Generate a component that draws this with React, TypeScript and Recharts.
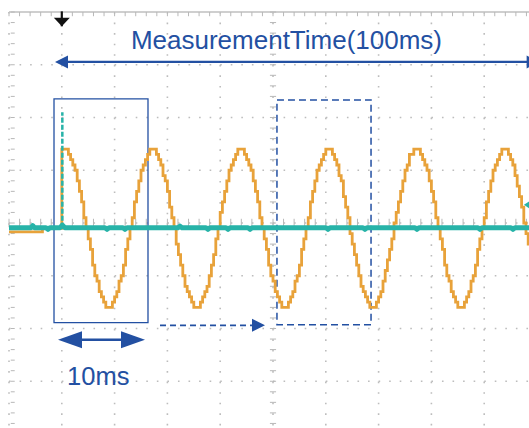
import React from "react";
import {
  ComposedChart,
  Line,
  XAxis,
  YAxis,
  CartesianGrid,
  ReferenceLine,
  ReferenceArea,
  ReferenceDot,
} from "recharts";

const BLUE = "#2350a2";
const ORANGE = "#e8a23a";
const TEAL = "#27b3a8";
const GRID = "#bdbdbd";

// screen: 6 ms per division horizontally, 1 unit per division vertically
const majorT = [0, 6, 12, 18, 24, 30, 36, 42, 48];
const majorV = [-3, -2, -1, 0, 1, 2, 3];

// CH1 (orange) before the trigger
const orangePreT = [-6, -2.2];
const orangePreV = [-0.17, -0.1];

// CH1 after the trigger, one sample every 0.25 ms from t = 0
const orangeSampleMs = 0.25;
const orangeVolts = [
  1.4,
  1.4, 1.4, 1.3, 1.2, 1.1, 1.0, 0.8, 0.6, 0.4, 0.1, -0.1, -0.3, -0.5, -0.8, -1.0, -1.1, -1.3, -1.4, -1.5, -1.6,
  -1.6, -1.6, -1.5, -1.4, -1.3, -1.1, -1.0, -0.8, -0.5, -0.3, -0.1, 0.1, 0.4, 0.6, 0.8, 1.0, 1.1, 1.2, 1.3, 1.4,
  1.4, 1.4, 1.3, 1.2, 1.1, 0.9, 0.8, 0.6, 0.3, 0.1, -0.1, -0.4, -0.6, -0.8, -1.0, -1.2, -1.3, -1.4, -1.5, -1.6,
  -1.6, -1.6, -1.5, -1.4, -1.3, -1.2, -1.0, -0.8, -0.6, -0.3, -0.1, 0.2, 0.4, 0.6, 0.8, 1.0, 1.1, 1.2, 1.3, 1.4,
  1.4, 1.4, 1.3, 1.2, 1.1, 1.0, 0.8, 0.6, 0.4, 0.1, -0.1, -0.3, -0.5, -0.8, -1.0, -1.1, -1.3, -1.4, -1.5, -1.6,
  -1.6, -1.6, -1.5, -1.4, -1.3, -1.1, -1.0, -0.8, -0.5, -0.3, -0.1, 0.1, 0.4, 0.6, 0.8, 1.0, 1.1, 1.2, 1.3, 1.4,
  1.4, 1.4, 1.3, 1.2, 1.1, 0.9, 0.8, 0.5, 0.3, 0.1, -0.2, -0.4, -0.6, -0.8, -1.0, -1.2, -1.3, -1.4, -1.5, -1.6,
  -1.6, -1.6, -1.5, -1.4, -1.3, -1.1, -0.9, -0.7, -0.5, -0.3, 0.0, 0.2, 0.4, 0.6, 0.8, 1.0, 1.1, 1.3, 1.3, 1.4,
  1.4, 1.4, 1.3, 1.2, 1.1, 1.0, 0.8, 0.6, 0.4, 0.1, -0.1, -0.3, -0.5, -0.8, -1.0, -1.1, -1.3, -1.4, -1.5, -1.6,
  -1.6, -1.6, -1.5, -1.4, -1.3, -1.1, -1.0, -0.8, -0.5, -0.3, -0.1, 0.1, 0.4, 0.6, 0.8, 1.0, 1.1, 1.2, 1.3, 1.4,
  1.4, 1.4, 1.3, 1.2, 1.1, 0.9, 0.7, 0.5, 0.3, 0.0, -0.2, -0.4, -0.6,
];

// CH2 (teal): flat with small glitches
const tealTrace: [number, number][] = [
  [-6, -0.09], [-3.5, -0.09], [-3.3, -0.05], [-3.1, -0.09],
  [-1.8, -0.09], [-1.57, -0.12], [-1.35, -0.09],
  [-0.2, -0.09], [0.05, -0.04], [0.35, -0.09],
  [4.9, -0.09], [5.14, -0.12], [5.38, -0.09],
  [6.95, -0.09], [7.18, -0.12], [7.41, -0.09],
  [13.2, -0.09], [13.43, -0.06], [13.66, -0.09],
  [16.38, -0.09], [16.61, -0.12], [16.84, -0.09],
  [18.66, -0.09], [18.89, -0.12], [19.12, -0.09],
  [21.16, -0.09], [21.39, -0.12], [21.62, -0.09],
  [30.02, -0.09], [30.25, -0.12], [30.48, -0.09],
  [34.22, -0.09], [34.45, -0.12], [34.68, -0.09],
  [40.13, -0.09], [40.36, -0.12], [40.59, -0.09],
  [47.29, -0.09], [47.52, -0.12], [47.75, -0.09],
  [51.04, -0.09], [51.27, -0.12], [51.5, -0.09],
  [54, -0.09],
];
const tealSpike: [number, number][] = [[0.06, -0.09], [0.06, 2.1]];

const orangeData = [
  ...orangePreT.map((t, i) => ({ t, v: orangePreV[i] })),
  ...orangeVolts.map((v, i) => ({ t: i * orangeSampleMs, v })),
];
const tealData = tealTrace.map(([t, v]) => ({ t, v }));
const spikeData = tealSpike.map(([t, v]) => ({ t, v }));

// small graticule marks (1/5 division)
const minorT = Array.from({ length: 51 }, (_, i) => -6 + i * 1.2);
const minorV = Array.from({ length: 41 }, (_, i) => -4 + i * 0.2);

const arrow =
  (o: { start?: boolean; end?: boolean; len: number; half: number; width: number; dash?: string }) =>
  (p: any) => {
    const { x1, y1, x2, y2 } = p;
    const L = Math.hypot(x2 - x1, y2 - y1) || 1;
    const ux = (x2 - x1) / L;
    const uy = (y2 - y1) / L;
    const head = (tx: number, ty: number, dir: number) => {
      const bx = tx - dir * ux * o.len;
      const by = ty - dir * uy * o.len;
      return `${tx},${ty} ${bx - uy * o.half},${by + ux * o.half} ${bx + uy * o.half},${by - ux * o.half}`;
    };
    const sx = o.start ? x1 + ux * o.len * 0.8 : x1;
    const sy = o.start ? y1 + uy * o.len * 0.8 : y1;
    const ex = o.end ? x2 - ux * o.len * 0.8 : x2;
    const ey = o.end ? y2 - uy * o.len * 0.8 : y2;
    return (
      <g>
        <line x1={sx} y1={sy} x2={ex} y2={ey} stroke={BLUE} strokeWidth={o.width} strokeDasharray={o.dash} />
        {o.start && <polygon points={head(x1, y1, -1)} fill={BLUE} />}
        {o.end && <polygon points={head(x2, y2, 1)} fill={BLUE} />}
      </g>
    );
  };

export default function App() {
  return (
    <div
      style={{
        position: "absolute",
        left: 0,
        top: 0,
        width: 529,
        height: 428,
        overflow: "hidden",
        background: "#fff",
        fontFamily: "'Liberation Sans', Arial, sans-serif",
      }}
    >
      <ComposedChart width={540} height={440} margin={{ top: 12, right: 3, bottom: 6, left: 9 }}>
        <XAxis type="number" dataKey="t" domain={[-6, 54]} ticks={majorT} hide allowDataOverflow />
        <YAxis type="number" dataKey="v" domain={[-4, 4]} ticks={majorV} hide allowDataOverflow />
        <CartesianGrid stroke={GRID} strokeWidth={1.6} strokeDasharray="1.6 8.96" />

        {/* top border and its ticks */}
        <ReferenceLine y={4} stroke="#cfcfcf" strokeWidth={2} ifOverflow="visible" />
        {minorT.map((t) => (
          <ReferenceLine key={"tt" + t} segment={[{ x: t, y: 4 }, { x: t, y: 3.92 }]} stroke="#b8b8b8" ifOverflow="visible" />
        ))}
        {/* center horizontal ticks */}
        {minorT.map((t) => (
          <ReferenceLine key={"ct" + t} segment={[{ x: t, y: -0.08 }, { x: t, y: 0.08 }]} stroke="#b8b8b8" ifOverflow="visible" />
        ))}
        {/* left border ticks */}
        {minorV.map((v) => (
          <ReferenceLine key={"lv" + v} segment={[{ x: -5.8, y: v }, { x: -5.35, y: v }]} stroke="#b8b8b8" ifOverflow="visible" />
        ))}
        {/* center vertical ticks */}
        {minorV.map((v) => (
          <ReferenceLine key={"cv" + v} segment={[{ x: 23.65, y: v }, { x: 24.35, y: v }]} stroke="#b8b8b8" ifOverflow="visible" />
        ))}

        <Line
          data={orangeData}
          dataKey="v"
          type="stepAfter"
          stroke={ORANGE}
          strokeWidth={2.8}
          dot={false}
          activeDot={false}
          isAnimationActive={false}
        />
        <Line
          data={tealData}
          dataKey="v"
          type="linear"
          stroke={TEAL}
          strokeWidth={5}
          strokeLinejoin="round"
          dot={false}
          activeDot={false}
          isAnimationActive={false}
        />
        <Line
          data={spikeData}
          dataKey="v"
          type="linear"
          stroke={TEAL}
          strokeWidth={2.5}
          strokeDasharray="5 2"
          dot={false}
          activeDot={false}
          isAnimationActive={false}
        />

        {/* annotations */}
        <ReferenceArea x1={-0.886} x2={9.795} y1={-1.89} y2={2.352} fill="none" stroke={BLUE} strokeWidth={1.3} ifOverflow="visible" />
        <ReferenceArea
          x1={24.45}
          x2={35.14}
          y1={-1.93}
          y2={2.333}
          fill="none"
          stroke={BLUE}
          strokeWidth={1.5}
          strokeDasharray="7 4"
          ifOverflow="visible"
        />
        <ReferenceLine
          segment={[{ x: -0.77, y: 3.053 }, { x: 54.3, y: 3.053 }]}
          ifOverflow="visible"
          shape={arrow({ start: true, end: true, len: 13, half: 6.5, width: 2.2 })}
        />
        <ReferenceLine
          segment={[{ x: 11.16, y: -1.94 }, { x: 23.09, y: -1.94 }]}
          ifOverflow="visible"
          shape={arrow({ end: true, len: 13, half: 6.5, width: 1.6, dash: "6 4" })}
        />
        <ReferenceLine
          segment={[{ x: -0.43, y: -2.212 }, { x: 9.455, y: -2.212 }]}
          ifOverflow="visible"
          shape={arrow({ start: true, end: true, len: 24, half: 8.5, width: 2.6 })}
        />
        <ReferenceDot
          x={25.53}
          y={3.29}
          r={0}
          ifOverflow="visible"
          shape={(p: any) => (
            <text x={p.cx} y={p.cy} textAnchor="middle" fontSize={26} fill={BLUE} fontFamily="'Liberation Sans', Arial, sans-serif">
              MeasurementTime(100ms)
            </text>
          )}
        />
        <ReferenceDot
          x={0.6}
          y={-3.064}
          r={0}
          ifOverflow="visible"
          shape={(p: any) => (
            <text x={p.cx} y={p.cy} textAnchor="start" fontSize={25.5} fill={BLUE} fontFamily="'Liberation Sans', Arial, sans-serif">
              10ms
            </text>
          )}
        />
        {/* trigger position marker */}
        <ReferenceDot
          x={0}
          y={3.88}
          r={0}
          ifOverflow="visible"
          shape={(p: any) => (
            <g>
              <line x1={p.cx} y1={p.cy - 7} x2={p.cx} y2={p.cy + 8} stroke="#111" strokeWidth={2.2} />
              <polygon points={`${p.cx - 8},${p.cy - 0.5} ${p.cx + 8},${p.cy - 0.5} ${p.cx},${p.cy + 8}`} fill="#111" />
            </g>
          )}
        />
        {/* CH2 level marker at the right edge */}
        <ReferenceDot
          x={52.86}
          y={0.345}
          r={0}
          ifOverflow="visible"
          shape={(p: any) => (
            <polygon points={`${p.cx - 3},${p.cy} ${p.cx + 3},${p.cy - 4} ${p.cx + 3},${p.cy + 4}`} fill={TEAL} />
          )}
        />
      </ComposedChart>
    </div>
  );
}
